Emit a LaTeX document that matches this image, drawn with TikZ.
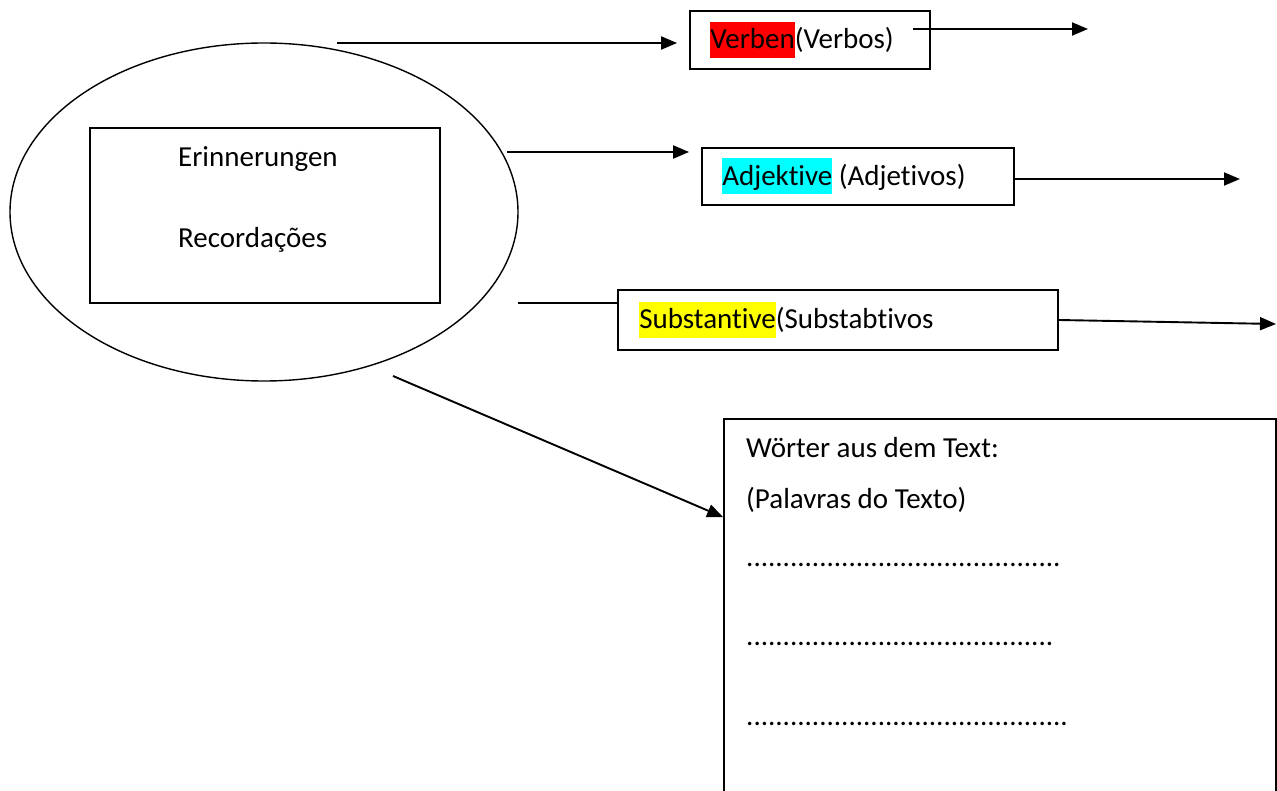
\documentclass[tikz,border=0pt]{standalone}
\usepackage{fontspec}
\setmainfont{Carlito}[Ligatures={NoCommon,NoContextual}]
\usetikzlibrary{shapes.geometric, arrows.meta, positioning}
\definecolor{hlrot}{RGB}{255,0,0}
\definecolor{hlcyan}{RGB}{0,255,255}
\definecolor{hlgelb}{RGB}{255,255,0}
\newcommand{\markiert}[2]{{\setlength{\fboxsep}{0pt}\colorbox{#1}{\rule[-9pt]{0pt}{36pt}#2}}}
\newcommand{\punkte}[1]{\foreach \i in {1,...,#1}{.}}
\tikzset{
  kasten/.style={draw, line width=1.8pt, inner sep=0pt},
  schrift/.style={inner sep=0pt, font=\fontsize{29}{35}\selectfont},
  pfeil/.style={line width=1.9pt, -{Triangle[length=16pt, width=13pt]}},
  linie/.style={line width=1.9pt}
}

\begin{document}
\begin{tikzpicture}[x=1pt, y=-1pt] % pixel coordinates, y downwards
\useasboundingbox (0,0) rectangle (1277,791);
\clip (0,0) rectangle (1277,791);

% oval with box
\node[draw, ellipse, line width=1.4pt, minimum width=508pt, minimum height=338pt] (oval) at (264,212) {};
\node[kasten, minimum width=350pt, minimum height=175pt] (innen) at (265,215.5) {};
\node[schrift, anchor=base west] (erin) at (178,167) {Erinnerungen};
\node[schrift, anchor=base west] (recor) at (178,248) {Recordações};

% word classes
\node[kasten, minimum width=240pt, minimum height=58pt] (verb) at (810,40) {};
\node[schrift, right=21pt of verb.west] (verbt) {\markiert{hlrot}{Verben}(Verbos)};
\node[kasten, minimum width=312pt, minimum height=57pt] (adj) at (858,176.5) {};
\node[schrift, right=21pt of adj.west] (adjt) {\markiert{hlcyan}{Adjektive} (Adjetivos)};
\node[kasten, minimum width=440pt, minimum height=60pt] (subst) at (838,320) {};
\node[schrift, right=22pt of subst.west] (substt) {\markiert{hlgelb}{Substantive}(Substabtivos};

% word list
\node[kasten, minimum width=552pt, minimum height=400pt] (wort) at (1000,619) {};
\node[schrift, anchor=base west] (w1) at (746,457) {Wörter aus dem Text:};
\node[schrift, anchor=base west] (w2) at (746,508) {(Palavras do Texto)};
\node[schrift, anchor=base west] (w3) at (746,566) {\punkte{43}};
\node[schrift, anchor=base west] (w4) at (746,645) {\punkte{42}};
\node[schrift, anchor=base west] (w5) at (746,725) {\punkte{44}};

% connectors
\coordinate (s1) at (337,43);
\coordinate (s2) at (507,152);
\coordinate (s3) at (518,303);
\coordinate (s4) at (393,376);
\coordinate (vo) at (913,29);
\coordinate (a1) at (1088,29);
\coordinate (a2) at (1240,179);
\coordinate (a3) at (1276,324);

\draw[pfeil, shorten >=12pt] (s1) -- (s1 -| verb.west);
\draw[pfeil] (vo) -- (a1);
\draw[pfeil, shorten >=12pt] (s2) -- (s2 -| adj.west);
\draw[pfeil] (adj.east |- a2) -- (a2);
\draw[linie] (s3) -- (s3 -| subst.west);
\draw[pfeil] (subst.east) -- (a3);
\draw[pfeil] (s4) -- ([yshift=-99pt]wort.north west);
\end{tikzpicture}
\end{document}
